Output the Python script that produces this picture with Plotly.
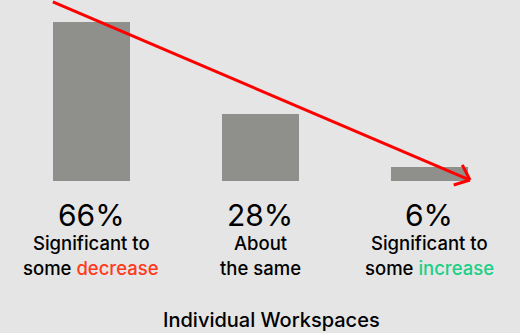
import numpy as np
import plotly.graph_objects as go

# Share of respondents by expected change in individual workspaces
categories = ["decrease", "same", "increase"]
values = [66, 28, 6]
pct_labels = ["66%", "28%", "6%"]
line1 = ["Significant to", "About", "Significant to"]
line2_prefix = ["some ", "the same", "some "]
line2_accent = ["decrease", "", "increase"]
accent_colors = ["#ff3a1c", "#000000", "#1ccf86"]
axis_title = "Individual Workspaces"

W, H = 520, 333
BG = "#e5e5e5"
BAR = "#8f8f8b"
FONT = "Inter"

x_pos = np.arange(len(categories))
bar_width = 0.456
x_range = [-0.541, 2.536]
y_range = [-63.07, 75.1]

fig = go.Figure()
fig.add_trace(go.Bar(
    x=x_pos, y=values, width=bar_width,
    marker=dict(color=BAR, line=dict(width=0)),
    hoverinfo="skip", showlegend=False,
))

# pixel <-> data helpers for the trend arrow
sx = W / (x_range[1] - x_range[0])
sy = H / (y_range[1] - y_range[0])


def to_px(x, y):
    return (x - x_range[0]) * sx, (y_range[1] - y) * sy


def to_data(px, py):
    return px / sx + x_range[0], y_range[1] - py / sy


# trend arrow from above the tallest bar down past the smallest one
start = (x_pos[0] - bar_width / 2, values[0] + 8.3)
end = (x_pos[-1] + bar_width / 2 + 0.012, 0.4)
fig.add_shape(type="line", x0=start[0], y0=start[1], x1=end[0], y1=end[1],
              line=dict(color="#ff0000", width=3))
p0 = np.array(to_px(*start))
p1 = np.array(to_px(*end))
d = (p0 - p1) / np.linalg.norm(p0 - p1)
arm = 17
for ang in (np.deg2rad(40), -np.deg2rad(40)):
    rot = np.array([[np.cos(ang), -np.sin(ang)], [np.sin(ang), np.cos(ang)]])
    q = p1 + arm * rot @ d
    qx, qy = to_data(*q)
    fig.add_shape(type="line", x0=end[0], y0=end[1], x1=qx, y1=qy,
                  line=dict(color="#ff0000", width=3))

# labels beneath each bar
for i, x in enumerate(x_pos):
    fig.add_annotation(x=x, y=1 - 215 / H, xref="x", yref="paper",
                       text=pct_labels[i], showarrow=False,
                       font=dict(family=FONT, size=30, color="#000000"),
                       xanchor="center", yanchor="middle")
    fig.add_annotation(x=x, y=1 - 243 / H, xref="x", yref="paper",
                       text=line1[i], showarrow=False,
                       font=dict(family=FONT, size=18.5, color="#000000", weight=500),
                       xanchor="center", yanchor="middle")
    second = line2_prefix[i]
    if line2_accent[i]:
        second += f"<span style='color:{accent_colors[i]}'>{line2_accent[i]}</span>"
    fig.add_annotation(x=x, y=1 - 268 / H, xref="x", yref="paper",
                       text=second, showarrow=False,
                       font=dict(family=FONT, size=18.5, color="#000000", weight=500),
                       xanchor="center", yanchor="middle")

fig.add_annotation(x=271 / W, y=0, xref="paper", yref="paper",
                   text=axis_title, showarrow=False, borderpad=0,
                   font=dict(family=FONT, size=20, color="#000000", weight=500),
                   xanchor="center", yanchor="bottom")

fig.update_xaxes(range=x_range, visible=False, fixedrange=True)
fig.update_yaxes(range=y_range, visible=False, fixedrange=True)
fig.update_layout(
    width=W, height=H,
    margin=dict(l=0, r=0, t=0, b=0),
    paper_bgcolor=BG, plot_bgcolor=BG,
    bargap=0,
)

fig.write_html("out.html", config={"displayModeBar": False})
